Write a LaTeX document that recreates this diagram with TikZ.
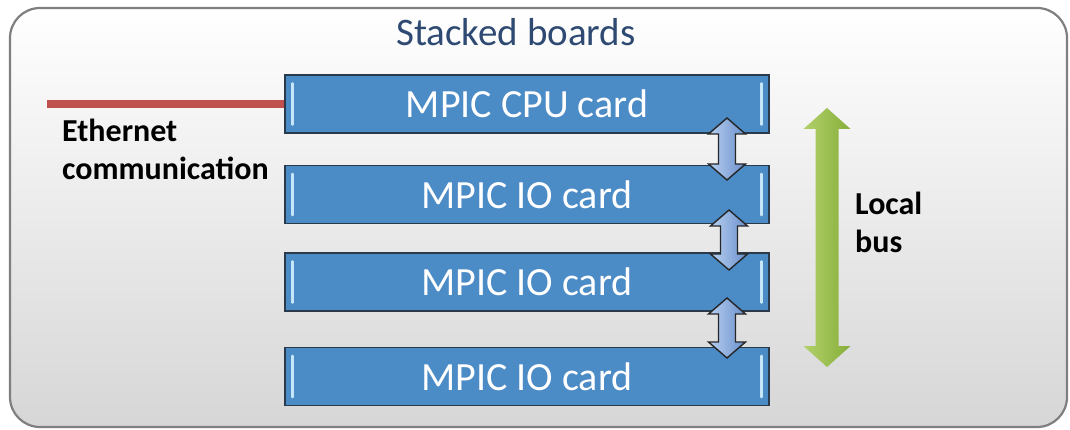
\documentclass[tikz,border=0pt]{standalone}
\usepackage{fontspec}
\setmainfont{Carlito}
\definecolor{cardblue}{HTML}{4B8BC6}
\definecolor{cardedge}{HTML}{2A3A4A}
\definecolor{hilite}{HTML}{C4E6F8}
\definecolor{titleblue}{HTML}{2F4A72}
\definecolor{ethred}{HTML}{C0504D}
\definecolor{frame}{HTML}{7F7F7F}
\definecolor{arrL}{HTML}{B8D0F0}
\definecolor{arrR}{HTML}{6A8FCB}
\definecolor{grnL}{HTML}{B2D16A}
\definecolor{grnR}{HTML}{86AE3A}
\newcommand\vdarrow[7]{%
  \path[#7] (#1,#2) -- (#1+#4,#2+#6) -- (#1+#5,#2+#6) -- (#1+#5,#3-#6) -- (#1+#4,#3-#6) -- (#1,#3) -- (#1-#4,#3-#6) -- (#1-#5,#3-#6) -- (#1-#5,#2+#6) -- (#1-#4,#2+#6) -- cycle;}
\tikzset{
  card/.style={draw=cardedge, line width=1.2pt, fill=cardblue, minimum width=484pt, minimum height=58pt,
    inner sep=0pt, text=white, font=\fontsize{40}{46}\selectfont},
  blockarr/.style={draw=black!85, line width=1.4pt, line join=miter, left color=arrL, right color=arrR},
  busarr/.style={draw=none, left color=grnL, right color=grnR},
  lbl/.style={anchor=base west, inner sep=0pt, font=\fontsize{32}{36}\selectfont\bfseries, align=left},
  hl/.style={draw=hilite, line width=2.5pt, line cap=round},
}
\begin{document}
\begin{tikzpicture}[x=1pt, y=-1pt]
\useasboundingbox (0,0) rectangle (1070,430);
% outer frame
\shade[top color=white, bottom color=black!16, rounded corners=30pt]
  (10,8) rectangle (1067,427);
\draw[frame, line width=2.2pt, rounded corners=30pt] (10,8) rectangle (1067,427);
% title
\node[anchor=base, inner sep=0pt, text=titleblue, font=\fontsize{39}{44}\selectfont] (title) at (516,46) {Stacked boards};
% cards
\node[card] (cpu) at (527,104) {MPIC CPU card};
\node[card] (io1) at (527,194.5) {MPIC IO card};
\node[card] (io2) at (527,282) {MPIC IO card};
\node[card] (io3) at (527,376.5) {MPIC IO card};
\foreach \c in {cpu,io1,io2,io3}{
  \draw[hl] ([shift={(8,9)}]\c.north west) -- ([shift={(8,-9)}]\c.south west);
  \draw[hl] ([shift={(-8,9)}]\c.north east) -- ([shift={(-8,-9)}]\c.south east);
}
% ethernet line
\coordinate (ethstart) at (47,104);
\draw[ethred, line width=8pt] (ethstart) -- (cpu.west);
\node[lbl] (eth) at (62,142) {Ethernet};
\node[lbl] (comm) at (62,180) {communication};
% small double arrows between cards
\vdarrow{727}{118}{180}{18.5}{8.5}{16}{blockarr}
\vdarrow{729}{210}{270}{18.5}{8.5}{16}{blockarr}
\vdarrow{727}{298}{358}{18.5}{8.5}{16}{blockarr}
% local bus arrow
\vdarrow{827}{108}{367}{23.5}{11.5}{21}{busarr}
\node[lbl] (local) at (855,215) {Local};
\node[lbl] (bus) at (855,253) {bus};
\end{tikzpicture}
\end{document}
